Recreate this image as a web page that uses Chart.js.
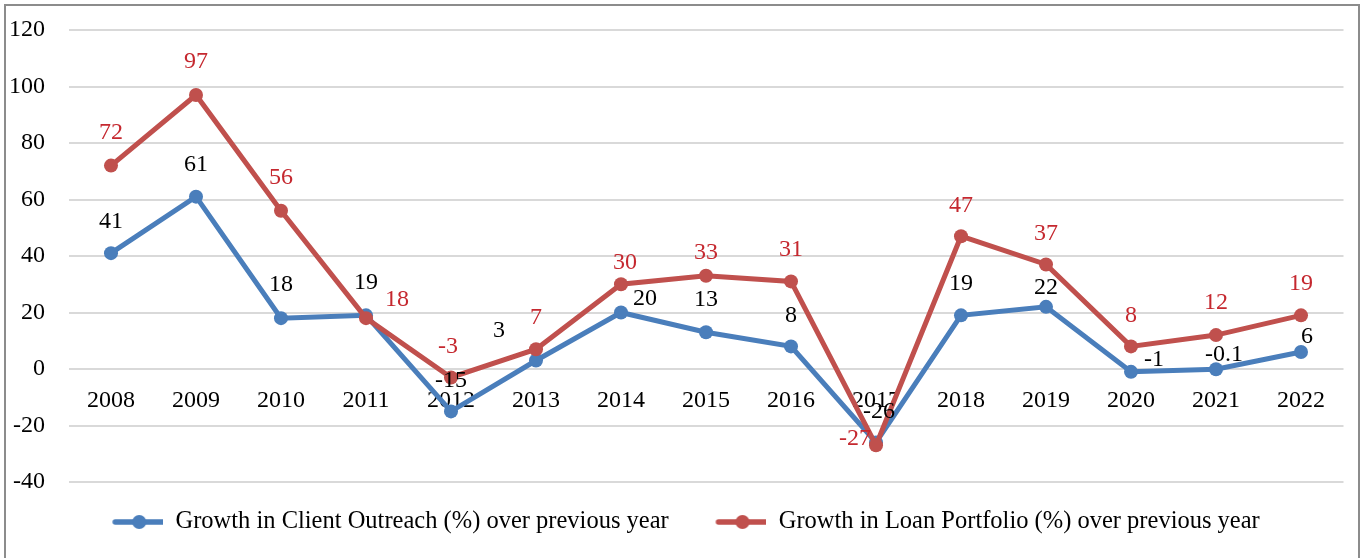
<!DOCTYPE html>
<html>
<head>
<meta charset="utf-8">
<script src="https://cdn.jsdelivr.net/npm/chart.js@4"></script>
<style>
  html, body { margin: 0; padding: 0; background: #fff; }
  #wrap { position: relative; width: 1366px; height: 558px; overflow: hidden; }
  #frame {
    position: absolute; left: 4px; top: 4px; width: 1356px; height: 600px;
    border: 2px solid #8c8c8c; box-sizing: border-box; pointer-events: none;
  }
</style>
</head>
<body>
<div id="wrap">
  <canvas id="chart"></canvas>
  <div id="frame"></div>
</div>
<script>
const years = ['2008', '2009', '2010', '2011', '2012', '2013', '2014', '2015',
               '2016', '2017', '2018', '2019', '2020', '2021', '2022'];
const clientOutreach = [41, 61, 18, 19, -15, 3, 20, 13, 8, -26, 19, 22, -1, -0.1, 6];
const loanPortfolio = [72, 97, 56, 18, -3, 7, 30, 33, 31, -27, 47, 37, 8, 12, 19];
const seriesNames = ['Growth in Client Outreach (%) over previous year',
                     'Growth in Loan Portfolio (%) over previous year'];
const yTicks = { min: -40, max: 120, step: 20 };

// where each value label sits relative to its point (px)
const clientLabelShift = [[0, -31], [0, -32], [0, -33], [0, -33], [0, -31], [-37, -30], [24, -14], [0, -33],
                          [0, -31], [3, -31], [0, -32], [0, -19], [23, -12], [8, -15], [6, -15]];
const loanLabelShift = [[0, -33], [0, -33], [0, -33], [31, -18], [-3, -31], [0, -32], [4, -22], [0, -23],
                        [0, -32], [-21, -7], [0, -31], [0, -31], [0, -31], [0, -32], [0, -32]];

const BLUE = '#4a7ebb';
const RED = '#c0504d';
const FONT = "'Liberation Serif', 'Times New Roman', serif";

Chart.defaults.font.family = FONT;
Chart.defaults.color = '#000';

// legend marker: line with a dot, with a blank lead-in for spacing
function legendIcon(color) {
    const c = document.createElement('canvas');
    c.width = 70;
    c.height = 16;
    const g = c.getContext('2d');
    g.strokeStyle = color;
    g.lineWidth = 5.5;
    g.lineCap = 'round';
    g.beginPath();
    g.moveTo(22, 8);
    g.lineTo(69, 8);
    g.stroke();
    g.fillStyle = color;
    g.beginPath();
    g.arc(46, 8, 7, 0, Math.PI * 2);
    g.fill();
    return c;
}

const valueLabels = {
    id: 'valueLabels',
    afterDatasetsDraw(chart) {
        const ctx = chart.ctx;
        ctx.save();
        ctx.font = '24px ' + FONT;
        ctx.textAlign = 'center';
        ctx.textBaseline = 'middle';
        chart.data.datasets.forEach((ds, di) => {
            const meta = chart.getDatasetMeta(di);
            meta.data.forEach((pt, i) => {
                const [dx, dy] = ds.labelShift[i];
                ctx.fillStyle = ds.labelColor;
                ctx.fillText(String(ds.data[i]), pt.x + dx, pt.y + dy);
            });
        });
        ctx.restore();
    }
};

const ctx = document.getElementById('chart').getContext('2d');
new Chart(ctx, {
    type: 'line',
    data: {
        labels: years,
        datasets: [
            {
                label: seriesNames[0],
                data: clientOutreach,
                borderColor: BLUE,
                backgroundColor: BLUE,
                pointBackgroundColor: BLUE,
                borderWidth: 5,
                pointRadius: 7,
                pointHoverRadius: 7,
                pointBorderWidth: 0,
                tension: 0,
                order: 1,
                labelColor: '#000',
                labelShift: clientLabelShift
            },
            {
                label: seriesNames[1],
                data: loanPortfolio,
                borderColor: RED,
                backgroundColor: RED,
                pointBackgroundColor: RED,
                borderWidth: 5,
                pointRadius: 7,
                pointHoverRadius: 7,
                pointBorderWidth: 0,
                tension: 0,
                order: 0,
                labelColor: '#c5282f',
                labelShift: loanLabelShift
            }
        ]
    },
    options: {
        responsive: true,
        maintainAspectRatio: false,
        animation: false,
        layout: {
            padding: { left: 9.5, right: 22.5, top: 30, bottom: 13.75 }
        },
        scales: {
            x: {
                type: 'category',
                position: { y: 0 },
                offset: true,
                grid: { display: false, drawTicks: false },
                border: { display: false },
                ticks: { font: { size: 24 }, color: '#000', padding: 17, maxRotation: 0, autoSkip: false },
                afterFit(scale) { scale.height = 0; }
            },
            y: {
                min: yTicks.min,
                max: yTicks.max,
                grid: { color: '#d9d9d9', lineWidth: 2, drawTicks: false },
                border: { display: false },
                ticks: { stepSize: yTicks.step, font: { size: 24 }, color: '#000', padding: 23.5 },
                afterFit(scale) {
                    scale.width = 59;
                    scale.paddingTop = 0;
                    scale.paddingBottom = 0;
                }
            }
        },
        plugins: {
            tooltip: { enabled: false },
            legend: {
                position: 'bottom',
                labels: {
                    usePointStyle: true,
                    pointStyleWidth: 70,
                    padding: 27.75,
                    color: '#000',
                    font: { size: 24.5 },
                    generateLabels(chart) {
                        return chart.data.datasets.map((ds, i) => ({
                            text: ds.label,
                            fillStyle: ds.borderColor,
                            strokeStyle: ds.borderColor,
                            lineWidth: 0,
                            pointStyle: legendIcon(ds.borderColor),
                            hidden: false,
                            datasetIndex: i,
                            fontColor: '#000'
                        }));
                    }
                }
            }
        }
    },
    plugins: [valueLabels]
});
</script>
</body>
</html>
